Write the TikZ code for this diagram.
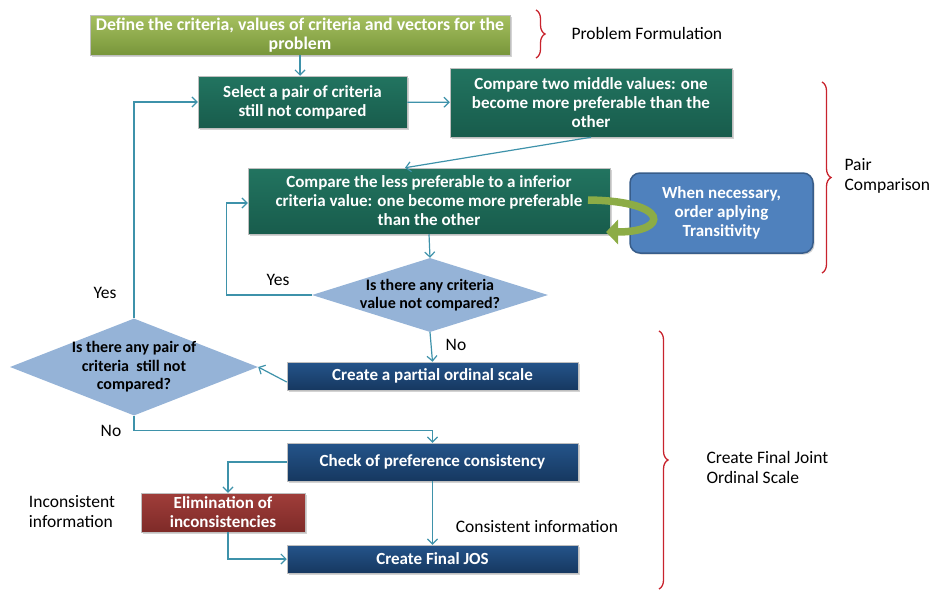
\documentclass[tikz,border=0pt]{standalone}
\usepackage{fontspec}
\setmainfont{Carlito}
\usetikzlibrary{shapes.geometric}
\usetikzlibrary{arrows.meta}
\usetikzlibrary{decorations.pathreplacing}
\usetikzlibrary{shadows}

\definecolor{linkblue}{RGB}{62,146,170}
\definecolor{bracered}{RGB}{200,35,45}
\definecolor{olivetop}{RGB}{166,192,96}
\definecolor{olivebot}{RGB}{120,150,58}
\definecolor{tealtop}{RGB}{34,116,96}
\definecolor{tealbot}{RGB}{24,92,76}
\definecolor{navytop}{RGB}{36,84,138}
\definecolor{navybot}{RGB}{22,56,96}
\definecolor{redtop}{RGB}{160,62,58}
\definecolor{redbot}{RGB}{126,42,40}
\definecolor{dialight}{RGB}{149,179,215}
\definecolor{transblue}{RGB}{79,129,189}
\definecolor{transedge}{RGB}{56,93,138}
\definecolor{bendgreen}{RGB}{140,172,70}

\tikzset{
  box/.style={rectangle, draw=white!75!black, line width=0.5pt, inner sep=0pt,
    text=white, align=center, font=\bfseries\fontsize{17}{19}\selectfont,
    drop shadow={opacity=0.35, shadow xshift=1.5pt, shadow yshift=-1.5pt}},
  olivebox/.style={box, top color=olivetop, bottom color=olivebot},
  tealbox/.style={box, top color=tealtop, bottom color=tealbot},
  navybox/.style={box, top color=navytop, bottom color=navybot},
  redbox/.style={box, top color=redtop, bottom color=redbot},
  dia/.style={diamond, fill=dialight, inner sep=0pt},
  diatext/.style={align=center, text=black, font=\bfseries\fontsize{16}{18.5}\selectfont},
  link/.style={draw=linkblue, line width=1.2pt, -{Straight Barb[length=5pt,width=10pt]}},
  side/.style={font=\fontsize{17.5}{20}\selectfont, align=left},
  brc/.style={draw=bracered, line width=1.3pt, decorate, decoration={brace, amplitude=9pt}},
}

\begin{document}
\begin{tikzpicture}[x=1pt, y=-1pt]
  \useasboundingbox (0,0) rectangle (933,589);
  % boxes
  \node[olivebox, minimum width=420, minimum height=40, font=\bfseries\fontsize{17.8}{19}\selectfont] (define) at (300,35)
    {Define the criteria, values of criteria and vectors for the\\problem};
  \node[tealbox, minimum width=209, minimum height=52] (select) at (302.5,102)
    {Select a pair of criteria\\still not compared};
  \node[tealbox, minimum width=282, minimum height=69] (two) at (591,102.5)
    {Compare two middle values: one\\become more preferable than the\\other};
  \node[tealbox, minimum width=362, minimum height=66] (less) at (429,201)
    {Compare the less preferable to a inferior\\criteria value: one become more preferable\\than the other};
  \node[box, fill=transblue, draw=transedge, line width=1.5pt, rounded corners=10pt,
    minimum width=183, minimum height=80] (trans) at (721.5,213)
    {When necessary,\\order aplying\\Transitivity};
  \node[dia, minimum width=236, minimum height=74,
    label={[diatext]center:Is there any criteria\\value not compared?}] (d1) at (430,295) {};
  \node[navybox, minimum width=291, minimum height=28] (partial) at (432.5,376)
    {Create a partial ordinal scale};
  \node[dia, minimum width=248, minimum height=97,
    label={[diatext]center:Is there any pair of\\criteria\ \ still not\\compared?}] (d2) at (134,367) {};
  \node[navybox, minimum width=291, minimum height=38] (check) at (432.5,462)
    {Check of preference consistency};
  \node[redbox, minimum width=164, minimum height=39] (elim) at (223,512.5)
    {Elimination of\\inconsistencies};
  \node[navybox, minimum width=291, minimum height=28] (final) at (432.5,559)
    {Create Final JOS};

  % transitivity bend
  \draw[bendgreen, line width=7.5pt, -{Triangle[length=12pt,width=24pt]}]
    (588,200) .. controls (670,201) and (670,232) .. (606,232);

  % connectors
  \draw[link] (define.south) -- (define.south |- select.north);
  \draw[link] (select) -- (two);
  \draw[link] (two.south) -- ([xshift=-24pt]less.north);
  \draw[link] (less.south) -- (d1.north);
  \draw[link] (d1.west) -- ++(-85,0) |- ([yshift=-2pt]less.west);
  \draw[link] (d1.south) -- (partial.north);
  \draw[link] ([yshift=-6pt]partial.west) -- (d2.east);
  \draw[link] (d2.north) |- (select.west);
  \draw[link] (d2.south) -- ++(0,15) -| (check.north);
  \draw[link] (check.west) -| ([xshift=5pt]elim.north);
  \draw[link] ([xshift=5pt]elim.south) |- (final.west);
  \draw[link] (check.south) -- (final.north);

  % side texts
  \node[side] (yes1) at (278,280) {Yes};
  \node[side] (yes2) at (105,293) {Yes};
  \node[side] (no1) at (456,345) {No};
  \node[side] (no2) at (111,431) {No};
  \node[side] (incons) at (72,512) {Inconsistent\\information};
  \node[side] (cons) at (537,527) {Consistent information};

  % braces
  \draw[brc] (536,10) -- (536,58);
  \node[side, anchor=west] (pform) at (568,33) {Problem Formulation};
  \draw[brc] (822,82) -- (822,273);
  \node[side, anchor=west] (pcomp) at (841,176) {Pair\\Comparison};
  \draw[brc] (659,331) -- (659,589);
  \node[side, anchor=west] (cjos) at (703,467) {Create Final Joint\\Ordinal Scale};
\end{tikzpicture}
\end{document}
